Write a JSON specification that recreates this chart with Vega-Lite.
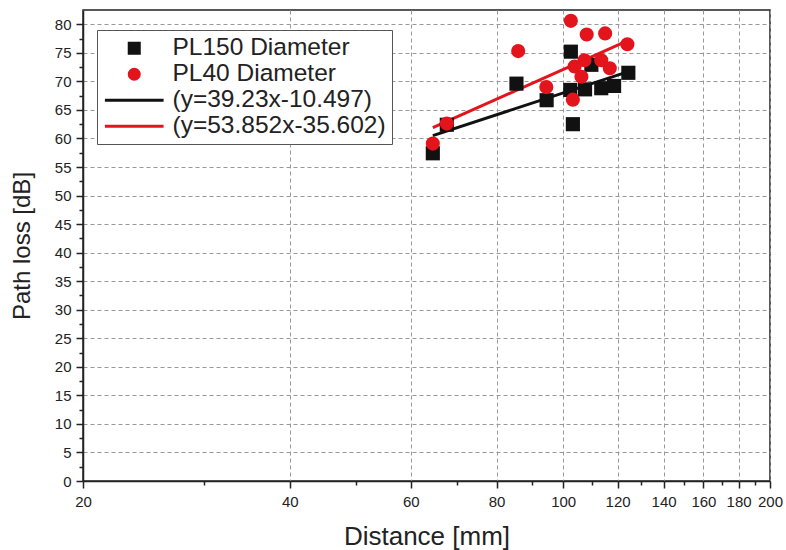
{
  "$schema": "https://vega.github.io/schema/vega-lite/v6.json",
  "autosize": {"type": "none"},
  "padding": {"left": 83, "top": 10, "right": 16, "bottom": 69},
  "width": 687,
  "height": 471,
  "background": "white",
  "config": {
    "font": "Liberation Sans",
    "view": {"stroke": "#222", "strokeWidth": 1.5},
    "axis": {
      "labelFont": "Liberation Sans",
      "titleFont": "Liberation Sans",
      "labelFontSize": 15,
      "labelColor": "#222",
      "titleColor": "#222",
      "titleFontWeight": "normal",
      "domainColor": "#222",
      "domainWidth": 1.5,
      "tickColor": "#222",
      "tickWidth": 1.5,
      "tickSize": 7,
      "gridColor": "#999",
      "gridDash": [4, 3],
      "gridWidth": 1,
      "labelOverlap": false,
      "labelFlush": false,
      "labelBound": false
    }
  },
  "datasets": {
    "pts": [
      {"distance": 64.6, "loss": 57.4, "series": "PL150 Diameter"},
      {"distance": 67.7, "loss": 62.4, "series": "PL150 Diameter"},
      {"distance": 85.5, "loss": 69.6, "series": "PL150 Diameter"},
      {"distance": 94.6, "loss": 66.7, "series": "PL150 Diameter"},
      {"distance": 102.6, "loss": 75.2, "series": "PL150 Diameter"},
      {"distance": 103.3, "loss": 62.5, "series": "PL150 Diameter"},
      {"distance": 102.4, "loss": 68.5, "series": "PL150 Diameter"},
      {"distance": 107.6, "loss": 68.6, "series": "PL150 Diameter"},
      {"distance": 109.9, "loss": 72.9, "series": "PL150 Diameter"},
      {"distance": 113.6, "loss": 68.8, "series": "PL150 Diameter"},
      {"distance": 118.6, "loss": 69.2, "series": "PL150 Diameter"},
      {"distance": 124.4, "loss": 71.5, "series": "PL150 Diameter"},
      {"distance": 64.6, "loss": 59.1, "series": "PL40 Diameter"},
      {"distance": 67.7, "loss": 62.6, "series": "PL40 Diameter"},
      {"distance": 86.0, "loss": 75.3, "series": "PL40 Diameter"},
      {"distance": 94.5, "loss": 69.0, "series": "PL40 Diameter"},
      {"distance": 102.6, "loss": 80.6, "series": "PL40 Diameter"},
      {"distance": 108.2, "loss": 78.2, "series": "PL40 Diameter"},
      {"distance": 115.1, "loss": 78.4, "series": "PL40 Diameter"},
      {"distance": 124.0, "loss": 76.5, "series": "PL40 Diameter"},
      {"distance": 103.9, "loss": 72.6, "series": "PL40 Diameter"},
      {"distance": 107.4, "loss": 73.7, "series": "PL40 Diameter"},
      {"distance": 106.3, "loss": 70.8, "series": "PL40 Diameter"},
      {"distance": 113.6, "loss": 73.7, "series": "PL40 Diameter"},
      {"distance": 116.9, "loss": 72.3, "series": "PL40 Diameter"},
      {"distance": 103.3, "loss": 66.8, "series": "PL40 Diameter"}
    ],
    "fits": [
      {"distance": 64.6, "loss": 60.5, "series": "(y=39.23x-10.497)"},
      {"distance": 124.4, "loss": 71.7, "series": "(y=39.23x-10.497)"},
      {"distance": 64.6, "loss": 61.9, "series": "(y=53.852x-35.602)"},
      {"distance": 124.4, "loss": 77.2, "series": "(y=53.852x-35.602)"}
    ]
  },
  "resolve": {"axis": {"x": "independent", "y": "independent"}},
  "layer": [
    {
      "data": {"name": "pts"},
      "mark": {"type": "point", "opacity": 0},
      "encoding": {
        "x": {
          "field": "distance",
          "type": "quantitative",
          "scale": {"type": "log", "domain": [20, 200], "nice": false},
          "axis": {
            "orient": "bottom",
            "values": [30, 50, 70, 90, 110, 130, 150, 170, 190],
            "labels": false,
            "grid": false,
            "domain": false,
            "tickSize": 4,
            "title": null
          }
        },
        "y": {
          "field": "loss",
          "type": "quantitative",
          "scale": {"domain": [0, 82.5], "nice": false},
          "axis": {
            "orient": "left",
            "values": [2.5, 7.5, 12.5, 17.5, 22.5, 27.5, 32.5, 37.5, 42.5, 47.5, 52.5, 57.5, 62.5, 67.5, 72.5, 77.5],
            "labels": false,
            "grid": false,
            "domain": false,
            "tickSize": 4,
            "title": null
          }
        }
      }
    },
    {
      "data": {"name": "fits"},
      "mark": {"type": "line", "strokeWidth": 3},
      "encoding": {
        "x": {"field": "distance", "type": "quantitative", "axis": null},
        "y": {"field": "loss", "type": "quantitative", "axis": null},
        "color": {"field": "series", "type": "nominal"},
        "detail": {"field": "series"}
      }
    },
    {
      "data": {"name": "pts"},
      "mark": {"type": "point", "filled": true, "opacity": 1, "size": 200},
      "encoding": {
        "x": {
          "field": "distance",
          "type": "quantitative",
          "axis": {
            "orient": "bottom",
            "values": [20, 40, 60, 80, 100, 120, 140, 160, 180, 200],
            "title": "Distance [mm]",
            "titleFontSize": 26,
            "titlePadding": 14,
            "labelPadding": 6,
            "grid": true
          }
        },
        "y": {
          "field": "loss",
          "type": "quantitative",
          "axis": {
            "orient": "left",
            "values": [0, 5, 10, 15, 20, 25, 30, 35, 40, 45, 50, 55, 60, 65, 70, 75, 80],
            "title": "Path loss [dB]",
            "titleFontSize": 24,
            "titlePadding": 20,
            "labelPadding": 5,
            "grid": true
          }
        },
        "color": {
          "field": "series",
          "type": "nominal",
          "scale": {
            "domain": ["PL150 Diameter", "PL40 Diameter", "(y=39.23x-10.497)", "(y=53.852x-35.602)"],
            "range": ["#111111", "#e3141c", "#111111", "#e3141c"]
          },
          "legend": {
            "orient": "none",
            "legendX": 14,
            "legendY": 20,
            "title": null,
            "strokeColor": "#555",
            "fillColor": "white",
            "padding": 6,
            "symbolSize": 170,
            "symbolOffset": 19,
            "symbolStrokeWidth": 0,
            "labelFont": "Liberation Sans",
            "labelFontSize": 24.5,
            "labelColor": "#222",
            "labelOffset": 26,
            "labelLimit": 400,
            "rowPadding": 1
          }
        },
        "shape": {
          "field": "series",
          "type": "nominal",
          "scale": {
            "domain": ["PL150 Diameter", "PL40 Diameter", "(y=39.23x-10.497)", "(y=53.852x-35.602)"],
            "range": ["square", "circle", "M-4.5,-0.22H4.5V0.22H-4.5Z", "M-4.5,-0.22H4.5V0.22H-4.5Z"]
          },
          "legend": {
            "orient": "none",
            "legendX": 14,
            "legendY": 20,
            "title": null
          }
        }
      }
    }
  ]
}
